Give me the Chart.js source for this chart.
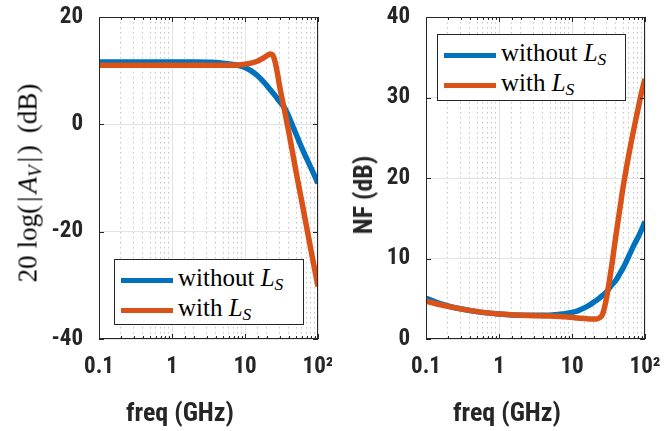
<!DOCTYPE html>
<html>
<head>
<meta charset="utf-8">
<script src="https://cdn.jsdelivr.net/npm/chart.js@4.4.1/dist/chart.umd.min.js"></script>
<style>
  body { margin: 0; background: #fff; }
  #wrap { position: relative; width: 665px; height: 431px; overflow: hidden; background: #fff; }
  canvas { position: absolute; top: 0; }
  .lbl { position: absolute; color: #262626; white-space: nowrap; line-height: 1; }
  .sans { font-family: 'Liberation Sans Narrow', 'Roboto Condensed', Roboto, sans-serif; font-weight: bold; font-size: 26px; }
  .serif { font-family: 'Liberation Serif', serif; font-size: 27px; color: #000; }
  .gap { display: inline-block; }
  .legend { position: absolute; border: 1px solid #262626; background: #fff; box-sizing: border-box;
            font-family: 'Liberation Serif', serif; font-size: 25px; color: #000; }
  .legend .row { position: absolute; left: 6px; height: 30px; line-height: 30px; white-space: nowrap; }
  .legend .swatch { display: inline-block; width: 52px; height: 5px; vertical-align: middle; margin-right: 5px; }
  sub { font-size: 0.7em; vertical-align: -0.25em; line-height: 0; }
</style>
</head>
<body>
<div id="wrap">
  <canvas id="gainChart" width="332" height="431" style="left:0"></canvas>
  <canvas id="nfChart" width="333" height="431" style="left:332px"></canvas>
  <div class="lbl serif" style="left:28px;top:183px;transform:translate(-50%,-50%) rotate(-90deg);">20<span class="gap" style="width:7px"></span>log(<span class="gap" style="width:3px"></span>|<span class="gap" style="width:3px"></span><i>A</i><sub><i>V</i></sub><span class="gap" style="width:3px"></span>|<span class="gap" style="width:3px"></span>)<span class="gap" style="width:12px"></span>(dB)</div>
  <div class="lbl sans" style="left:363px;top:195px;transform:translate(-50%,-50%) rotate(-90deg);">NF (dB)</div>
  <div class="lbl sans" style="left:180px;top:412px;transform:translate(-50%,-50%);">freq (GHz)</div>
  <div class="lbl sans" style="left:507px;top:412px;transform:translate(-50%,-50%);">freq (GHz)</div>
  <div class="legend" id="gainLegend" style="left:114px;top:259px;width:190px;height:66px;"></div>
  <div class="legend" id="nfLegend" style="left:437px;top:34px;width:189px;height:67px;"></div>
</div>
<script>
const freqGHz = [0.1, 0.2, 0.5, 1, 2, 5, 8, 10, 12, 15, 18, 20, 22, 24, 26, 28, 30, 35, 40, 45, 50, 60, 70, 80, 90, 100];

// voltage gain, 20 log(|Av|) in dB
const gainWithoutLs = [11.6, 11.6, 11.6, 11.6, 11.6, 11.4, 11.0, 10.6, 10.0, 9.0, 7.9, 7.2, 6.5, 5.9, 5.3, 4.7, 4.2, 3.0, 1.4, -0.3, -1.8, -4.4, -6.4, -8.1, -9.6, -11.0];
const gainWithLs    = [11.0, 11.0, 11.0, 11.0, 11.0, 11.0, 11.05, 11.2, 11.4, 11.8, 12.4, 12.8, 13.1, 12.9, 11.5, 9.3, 6.9, 2.4, -1.6, -5.4, -8.8, -14.4, -19.2, -23.4, -27.0, -30.2];

// noise figure in dB
const nfWithoutLs = [5.05, 4.1, 3.4, 3.1, 2.95, 2.95, 3.15, 3.3, 3.5, 3.9, 4.3, 4.6, 4.85, 5.1, 5.4, 5.6, 5.9, 6.7, 7.3, 8.1, 8.8, 10.3, 11.6, 12.6, 13.6, 14.6];
const nfWithLs    = [4.7, 4.05, 3.4, 3.1, 2.95, 2.85, 2.75, 2.7, 2.6, 2.55, 2.5, 2.5, 2.5, 2.65, 3.0, 4.0, 5.3, 9.1, 12.9, 16.0, 18.8, 22.9, 26.0, 28.5, 30.7, 32.3];

const xTickValues = [0.1, 1, 10, 100];
const xTickLabels = ['0.1', '1', '10', '10\u00B2'];

const seriesLabels = ['without L_S', 'with L_S'];
const seriesColors = ['#0072BD', '#D95319'];

const tickFont = { family: "'Liberation Sans Narrow', 'Roboto Condensed', Roboto, sans-serif", size: 23, weight: 'bold' };
const axisColor = '#262626';

function isDecade(v) {
  const l = Math.log10(v);
  return Math.abs(l - Math.round(l)) < 1e-6;
}

function points(ys) {
  return freqGHz.map((f, i) => ({ x: f, y: ys[i] }));
}

// box around the axes plus small inward tick marks, like the original
const boxFrame = {
  id: 'boxFrame',
  afterDatasetsDraw(chart) {
    const { ctx, chartArea: a, scales } = chart;
    ctx.save();
    ctx.strokeStyle = axisColor;
    ctx.lineWidth = 1;
    ctx.beginPath();
    scales.x.ticks.forEach(t => {
      const px = Math.round(scales.x.getPixelForValue(t.value)) + 0.5;
      const len = isDecade(t.value) ? 5 : 3;
      ctx.moveTo(px, a.bottom); ctx.lineTo(px, a.bottom - len);
      ctx.moveTo(px, a.top); ctx.lineTo(px, a.top + len);
    });
    scales.y.ticks.forEach(t => {
      const py = Math.round(scales.y.getPixelForValue(t.value)) + 0.5;
      ctx.moveTo(a.left, py); ctx.lineTo(a.left + 5, py);
      ctx.moveTo(a.right, py); ctx.lineTo(a.right - 5, py);
    });
    ctx.stroke();
    ctx.strokeRect(a.left + 0.5, a.top + 0.5, a.right - a.left - 1, a.bottom - a.top - 1);
    ctx.restore();
  }
};

function makeChart(id, series, yMin, yMax, yStep, yWidth, padRight) {
  return new Chart(document.getElementById(id), {
    type: 'line',
    data: {
      datasets: series.map((ys, i) => ({
        label: seriesLabels[i],
        data: points(ys),
        borderColor: seriesColors[i],
        borderWidth: 5.5,
        pointRadius: 0,
        fill: false,
        cubicInterpolationMode: 'monotone',
        order: series.length - i
      }))
    },
    options: {
      responsive: false,
      animation: false,
      layout: { padding: { left: 0, right: padRight, top: 17, bottom: 0 } },
      plugins: { legend: { display: false }, tooltip: { enabled: false } },
      scales: {
        x: {
          type: 'logarithmic',
          min: 0.1,
          max: 100,
          afterFit(scale) { scale.height = 92; scale.paddingLeft = 0; scale.paddingRight = 0; },
          border: {
            display: false,
            dash: ctx => (ctx.tick && !isDecade(ctx.tick.value)) ? [1.5, 3.5] : []
          },
          grid: {
            drawTicks: false,
            color: ctx => (ctx.tick && !isDecade(ctx.tick.value)) ? '#c4c4c4' : '#e3e3e3',
            lineWidth: 1
          },
          ticks: {
            autoSkip: false,
            maxRotation: 0,
            padding: 14,
            color: axisColor,
            font: tickFont,
            callback: v => {
              const k = xTickValues.findIndex(t => Math.abs(t - v) < 1e-9);
              return k >= 0 ? xTickLabels[k] : '';
            }
          }
        },
        y: {
          min: yMin,
          max: yMax,
          afterFit(scale) { scale.width = yWidth; scale.paddingTop = 0; scale.paddingBottom = 0; },
          border: { display: false },
          grid: { drawTicks: false, color: '#e3e3e3', lineWidth: 1 },
          ticks: { stepSize: yStep, padding: 16, color: axisColor, font: tickFont }
        }
      }
    },
    plugins: [boxFrame]
  });
}

function buildLegend(chart, boxId) {
  const box = document.getElementById(boxId);
  chart.data.datasets.forEach((ds, i) => {
    const row = document.createElement('div');
    row.className = 'row';
    row.style.top = (3 + i * 30) + 'px';
    const text = ds.label.replace(/L_S/, '<i>L</i><sub><i>S</i></sub>');
    row.innerHTML = '<span class="swatch" style="background:' + ds.borderColor + '"></span>' + text;
    box.appendChild(row);
  });
}

const gainChart = makeChart('gainChart', [gainWithoutLs, gainWithLs], -40, 20, 20, 99, 14);
const nfChart = makeChart('nfChart', [nfWithoutLs, nfWithLs], 0, 40, 10, 94, 20);
buildLegend(gainChart, 'gainLegend');
buildLegend(nfChart, 'nfLegend');
</script>
</body>
</html>
